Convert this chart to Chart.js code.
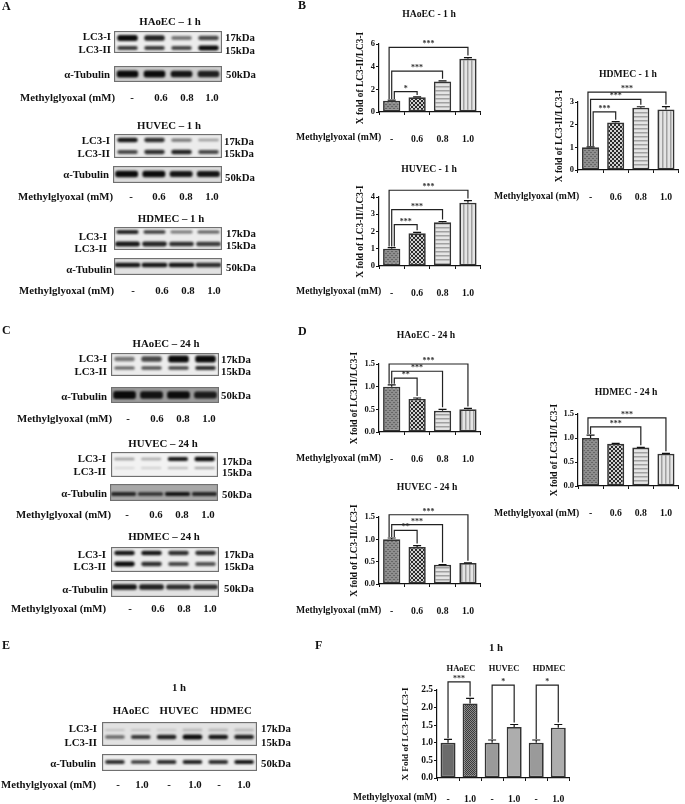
<!DOCTYPE html>
<html>
<head>
<meta charset="utf-8">
<script src="https://cdn.jsdelivr.net/npm/chart.js@4"></script>
<style>
  html, body { margin: 0; padding: 0; background: #fff; }
  #page { position: relative; width: 685px; height: 804px; overflow: hidden; font-family: "Liberation Serif", serif; font-weight: bold; color: #111; filter: blur(0.35px); }
  #page canvas { position: absolute; }
  .txt { position: absolute; white-space: nowrap; line-height: 1; }
</style>
</head>
<body>
<div id="page"></div>
<script>
// Values
const doses = ["-", "0.6", "0.8", "1.0"];
const pairDoses = ["-", "1.0", "-", "1.0", "-", "1.0"];
const cellTypes = ["HAoEC", "HUVEC", "HDMEC"];
const methylLabel = "Methylglyoxal (mM)";
const yTitle = "X fold of LC3-II/LC3-I";

// panel B
const haoec1hValues = [1.0, 1.3, 2.7, 4.7];
const haoec1hErrors = [0.05, 0.03, 0.05, 0.1];
const haoec1hTops = [1.8, 3.6, 5.7];
const haoec1hStars = ["*", "***", "***"];
const huvec1hValues = [1.0, 1.9, 2.53, 3.67];
const huvec1hErrors = [0.07, 0.05, 0.05, 0.12];
const huvec1hTops = [2.4, 3.27, 4.39];
const huvec1hStars = ["***", "***", "***"];
const hdmec1hValues = [1.0, 2.1, 2.75, 2.67];
const hdmec1hErrors = [0.02, 0.03, 0.04, 0.13];
const hdmec1hTops = [2.56, 3.12, 3.44];
const hdmec1hStars = ["***", "***", "***"];

// panel D
const haoec24hValues = [1.0, 0.73, 0.47, 0.5];
const haoec24hErrors = [0.04, 0.02, 0.03, 0.02];
const haoec24hTops = [1.19, 1.34, 1.5];
const haoec24hStars = ["**", "***", "***"];
const huvec24hValues = [1.0, 0.83, 0.43, 0.47];
const huvec24hErrors = [0.03, 0.03, 0.005, 0.005];
const huvec24hTops = [1.2, 1.33, 1.55];
const huvec24hStars = ["**", "***", "***"];
const hdmec24hValues = [1.0, 0.88, 0.8, 0.67];
const hdmec24hErrors = [0.06, 0.01, 0.005, 0.01];
const hdmec24hTops = [null, 1.23, 1.42];
const hdmec24hStars = ["", "***", "***"];

// panel F
const pairValues = [1.0, 2.12, 1.0, 1.45, 1.0, 1.43];
const pairErrors = [0.1, 0.14, 0.08, 0.07, 0.08, 0.09];
const pairTops = [2.73, 2.64, 2.64];
const pairStars = ["***", "*", "*"];

// band strength of each lane, 0 to 1 (panels A, C, E)
const a1Upper = [0.95, 0.85, 0.5, 0.7];
const a1Lower = [0.75, 0.75, 0.7, 0.95];
const a1Tubulin = [1, 1, 0.9, 0.85];
const a2Upper = [0.9, 0.8, 0.5, 0.35];
const a2Lower = [0.7, 0.8, 0.85, 0.7];
const a2Tubulin = [0.95, 0.95, 0.9, 0.9];
const a3Upper = [0.85, 0.75, 0.5, 0.6];
const a3Lower = [0.9, 0.85, 0.8, 0.75];
const a3Tubulin = [0.9, 0.9, 0.9, 0.8];
const c1Upper = [0.5, 0.7, 0.95, 1];
const c1Lower = [0.6, 0.65, 0.7, 0.8];
const c1Tubulin = [1, 0.9, 0.95, 0.85];
const c2Upper = [0.35, 0.3, 0.9, 1];
const c2Lower = [0.15, 0.2, 0.25, 0.35];
const c2Tubulin = [0.8, 0.75, 0.9, 0.8];
const c3Upper = [0.9, 0.9, 0.8, 0.8];
const c3Lower = [0.95, 0.8, 0.7, 0.65];
const c3Tubulin = [0.9, 0.85, 0.8, 0.8];
const eUpper = [0.15, 0.15, 0.12, 0.2, 0.2, 0.2];
const eLower = [0.55, 0.75, 0.85, 1, 0.9, 0.85];
const eTubulin = [0.8, 0.75, 0.8, 0.85, 0.8, 0.9];

const page = document.getElementById("page");
const SERIF = "'Liberation Serif', serif";

function addText(text, x, y, anchor, size) {
  const el = document.createElement("div");
  el.className = "txt";
  el.textContent = text;
  el.style.left = x + "px";
  el.style.top = y + "px";
  el.style.fontSize = (size || 10.8) + "px";
  const shift = anchor === "right" ? "-100%" : anchor === "left" ? "0" : "-50%";
  el.style.transform = "translate(" + shift + ",-50%)";
  page.appendChild(el);
}

function addCanvas(left, top, width, height) {
  const c = document.createElement("canvas");
  c.width = width;
  c.height = height;
  c.style.left = left + "px";
  c.style.top = top + "px";
  c.style.width = width + "px";
  c.style.height = height + "px";
  page.appendChild(c);
  return c;
}

// bar fills
function makePattern(kind) {
  const t = document.createElement("canvas");
  t.width = kind === "fine" ? 2 : 4;
  t.height = kind === "fine" ? 2 : 4;
  const g = t.getContext("2d");
  if (kind === "mesh") {
    g.fillStyle = "#8e8e8e";
    g.fillRect(0, 0, 4, 4);
    g.fillStyle = "#666";
    g.fillRect(0, 0, 2, 1);
    g.fillRect(2, 2, 2, 1);
  } else if (kind === "check") {
    g.fillStyle = "#d0d0d0";
    g.fillRect(0, 0, 4, 4);
    g.fillStyle = "#2a2a2a";
    g.fillRect(0, 0, 2, 2);
    g.fillRect(2, 2, 2, 2);
  } else if (kind === "fine") {
    g.fillStyle = "#8a8a8a";
    g.fillRect(0, 0, 2, 2);
    g.fillStyle = "#3a3a3a";
    g.fillRect(0, 0, 1, 1);
    g.fillRect(1, 1, 1, 1);
  } else if (kind === "hline") {
    g.fillStyle = "#e4e4e4";
    g.fillRect(0, 0, 4, 4);
    g.fillStyle = "#a0a0a0";
    g.fillRect(0, 0, 4, 1.5);
  } else {
    g.fillStyle = "#e4e4e4";
    g.fillRect(0, 0, 4, 4);
    g.fillStyle = "#a0a0a0";
    g.fillRect(0, 0, 1.5, 4);
  }
  return g.createPattern(t, "repeat");
}
const patterns = { mesh: makePattern("mesh"), check: makePattern("check"), fine: makePattern("fine"), hline: makePattern("hline"), vline: makePattern("vline") };
const fourFills = [patterns.mesh, patterns.check, patterns.hline, patterns.vline];
const pairFills = ["#6b6b6b", patterns.fine, "#9a9a9a", "#adadad", "#9a9a9a", "#adadad"];

// error caps and significance brackets, placed through the chart's scales
function marksPlugin(values, errors, brackets, opt) {
  return {
    id: "marks",
    afterDatasetsDraw(chart) {
      const ctx = chart.ctx;
      const y = chart.scales.y;
      const bars = chart.getDatasetMeta(0).data;
      ctx.save();
      ctx.strokeStyle = "#111";
      ctx.lineWidth = 1.2;
      values.forEach((v, i) => {
        const x = bars[i].x;
        const top = y.getPixelForValue(v + errors[i]);
        ctx.beginPath();
        ctx.moveTo(x, y.getPixelForValue(v));
        ctx.lineTo(x, top);
        ctx.moveTo(x - opt.cap, top);
        ctx.lineTo(x + opt.cap, top);
        ctx.stroke();
      });
      const mid = (brackets.length - 1) / 2;
      brackets.forEach((b, i) => {
        if (b.top === null) return;
        const dx = opt.nested ? (mid - i) * 2.6 : 0;
        const x0 = bars[b.from].x + dx;
        const x1 = bars[b.to].x;
        const yTop = y.getPixelForValue(b.top);
        const y0 = y.getPixelForValue(values[b.from] + errors[b.from]) - 1;
        const y1 = y.getPixelForValue(values[b.to] + errors[b.to]) - 2;
        ctx.strokeStyle = "#222";
        ctx.lineWidth = 1.2;
        ctx.beginPath();
        ctx.moveTo(x0, y0);
        ctx.lineTo(x0, yTop);
        ctx.lineTo(x1, yTop);
        ctx.lineTo(x1, y1);
        ctx.stroke();
        ctx.fillStyle = "#333";
        ctx.font = "bold " + opt.starSize + "px " + SERIF;
        ctx.textAlign = "center";
        ctx.textBaseline = "middle";
        ctx.fillText(b.label, (x0 + x1) / 2, yTop - 3);
      });
      ctx.restore();
    }
  };
}

// p = plot rectangle in page pixels, titleX = left edge for the axis title
function addBarChart(p, labels, values, errors, fills, yMax, step, brackets, extra) {
  const o = Object.assign({ nested: true, cap: 4, starSize: 8, tickSize: 8.5, xSize: 9.7, titleSize: 9.4, title: yTitle, decimals: 0, barPct: 0.68, xGap: 19 }, extra || {});
  const marginTop = 22, marginRight = 8, marginBottom = 36;
  const left = o.titleX;
  const w = p.right - left + marginRight;
  const h = p.bottom - p.top + marginTop + marginBottom;
  const canvas = addCanvas(left, p.top - marginTop, w, h);
  new Chart(canvas, {
    type: "bar",
    data: {
      labels: labels,
      datasets: [{
        data: values,
        backgroundColor: fills,
        borderColor: "#333",
        borderWidth: 1.7,
        borderSkipped: false,
        barPercentage: o.barPct,
        categoryPercentage: 1
      }]
    },
    options: {
      responsive: false,
      animation: false,
      events: [],
      layout: { padding: { top: marginTop, right: marginRight, left: 0, bottom: 0 } },
      plugins: { legend: { display: false }, tooltip: { enabled: false }, title: { display: false } },
      scales: {
        x: {
          border: { display: true, color: "#111", width: 1.2 },
          grid: { display: true, drawOnChartArea: false, drawTicks: true, tickLength: 3, tickColor: "#111" },
          ticks: { color: "#111", font: { family: SERIF, size: o.xSize, weight: "bold" }, padding: o.xGap, maxRotation: 0, autoSkip: false },
          afterFit(s) { s.height = marginBottom; }
        },
        y: {
          min: 0,
          max: yMax,
          border: { display: true, color: "#111", width: 1.2 },
          grid: { display: true, drawOnChartArea: false, drawTicks: true, tickLength: 3, tickColor: "#111" },
          ticks: {
            stepSize: step,
            padding: 1,
            color: "#111",
            font: { family: SERIF, size: o.tickSize, weight: "bold" },
            callback: v => v.toFixed(o.decimals)
          },
          title: { display: true, text: o.title, color: "#111", font: { family: SERIF, size: o.titleSize, weight: "bold" }, padding: 0 },
          afterFit(s) { s.width = p.left - left; }
        }
      }
    },
    plugins: [marksPlugin(values, errors, brackets, o)]
  });
}

function nestedBrackets(tops, stars) {
  return tops.map((t, i) => ({ from: 0, to: i + 1, top: t, label: stars[i] }));
}

// one western blot strip: every band is a floating bar in a lane
const blurPlugin = {
  id: "blur",
  beforeDatasetsDraw(chart) {
    chart.ctx.save();
    chart.ctx.filter = "blur(0.8px)";
  },
  afterDatasetsDraw(chart) {
    chart.ctx.restore();
  }
};

function addBlot(box, lanes, bands, bg) {
  const w = box.right - box.left;
  const h = box.bottom - box.top;
  const canvas = addCanvas(box.left, box.top, w, h);
  const frame = {
    id: "frame",
    beforeDraw(chart) {
      const ctx = chart.ctx;
      ctx.fillStyle = bg || "#ececec";
      ctx.fillRect(0, 0, w, h);
    },
    afterDraw(chart) {
      const ctx = chart.ctx;
      ctx.strokeStyle = "#707070";
      ctx.lineWidth = 1.3;
      ctx.strokeRect(0.5, 0.5, w - 1, h - 1);
    }
  };
  new Chart(canvas, {
    type: "bar",
    data: {
      labels: lanes,
      datasets: bands.map(b => {
        const half = v => b.size * 1.25 * (0.3 + 0.7 * v);
        return {
          data: b.values.map(v => [b.y - half(v), b.y + half(v)]),
          backgroundColor: b.values.map(v => "rgba(10,10,10," + Math.min(1, v * 1.05) + ")"),
          borderRadius: 2.5,
          borderSkipped: false,
          barPercentage: b.width || 0.76,
          categoryPercentage: 1
        };
      })
    },
    options: {
      responsive: false,
      animation: false,
      events: [],
      layout: { padding: 0 },
      datasets: { bar: { grouped: false } },
      plugins: { legend: { display: false }, tooltip: { enabled: false } },
      scales: {
        x: { display: false },
        y: { display: false, reverse: true, min: 0, max: h }
      }
    },
    plugins: [frame, blurPlugin]
  });
}

function laneRow(labels, xs, y, size) {
  labels.forEach((t, i) => addText(t, xs[i], y, "center", size || 10.8));
}

// Panel letters
addText("A", 2, 6, "left", 12);
addText("B", 298, 5, "left", 12);
addText("C", 2, 330, "left", 12);
addText("D", 298, 331, "left", 12);
addText("E", 2, 645, "left", 12);
addText("F", 315, 645, "left", 12);

// Panel A
addText("HAoEC – 1 h", 170, 21, "center");
addBlot({ left: 114, right: 222, top: 31, bottom: 53 }, doses, [
  { values: a1Upper, y: 7, size: 2.4 }, { values: a1Lower, y: 17, size: 2 }]);
addText("LC3-I", 111, 36, "right"); addText("LC3-II", 111, 49, "right");
addText("17kDa", 225, 37, "left"); addText("15kDa", 225, 50, "left");
addBlot({ left: 114, right: 222, top: 66, bottom: 82 }, doses, [{ values: a1Tubulin, y: 8, size: 2.8, width: 0.8 }], "#cfcfcf");
addText("α-Tubulin", 110, 74, "right"); addText("50kDa", 226, 74, "left");
addText(methylLabel, 20, 97, "left"); laneRow(doses, [132, 161, 187, 212], 97);

addText("HUVEC – 1 h", 169, 125, "center");
addBlot({ left: 114, right: 222, top: 134, bottom: 158 }, doses, [
  { values: a2Upper, y: 6, size: 2 }, { values: a2Lower, y: 18, size: 2 }]);
addText("LC3-I", 110, 140, "right"); addText("LC3-II", 110, 153, "right");
addText("17kDa", 224, 141, "left"); addText("15kDa", 224, 153, "left");
addBlot({ left: 113, right: 222, top: 166, bottom: 183 }, doses, [{ values: a2Tubulin, y: 8, size: 2.6, width: 0.84 }], "#dcdcdc");
addText("α-Tubulin", 109, 174, "right"); addText("50kDa", 225, 177, "left");
addText(methylLabel, 18, 196, "left"); laneRow(doses, [131, 159, 186, 212], 196);

addText("HDMEC – 1 h", 171, 218, "center");
addBlot({ left: 114, right: 222, top: 227, bottom: 250 }, doses, [
  { values: a3Upper, y: 5, size: 1.7, width: 0.82 }, { values: a3Lower, y: 17, size: 2.2, width: 0.92 }]);
addText("LC3-I", 107, 236, "right"); addText("LC3-II", 107, 248, "right");
addText("17kDa", 226, 233, "left"); addText("15kDa", 226, 245, "left");
addBlot({ left: 114, right: 222, top: 258, bottom: 275 }, doses, [{ values: a3Tubulin, y: 7, size: 2, width: 0.96 }], "#e2e2e2");
addText("α-Tubulin", 112, 269, "right"); addText("50kDa", 226, 267, "left");
addText(methylLabel, 19, 290, "left"); laneRow(doses, [133, 162, 188, 214], 290);

// Panel C
addText("HAoEC – 24 h", 166, 343, "center");
addBlot({ left: 111, right: 219, top: 353, bottom: 376 }, doses, [
  { values: c1Upper, y: 6, size: 2.8 }, { values: c1Lower, y: 15, size: 1.8 }]);
addText("LC3-I", 107, 358, "right"); addText("LC3-II", 107, 371, "right");
addText("17kDa", 221, 359, "left"); addText("15kDa", 221, 371, "left");
addBlot({ left: 111, right: 219, top: 387, bottom: 403 }, doses, [{ values: c1Tubulin, y: 8, size: 3.2, width: 0.84 }], "#9c9c9c");
addText("α-Tubulin", 107, 396, "right"); addText("50kDa", 221, 395, "left");
addText(methylLabel, 17, 418, "left"); laneRow(doses, [128, 157, 183, 209], 418);

addText("HUVEC – 24 h", 163, 443, "center");
addBlot({ left: 111, right: 218, top: 452, bottom: 477 }, doses, [
  { values: c2Upper, y: 7, size: 1.8 }, { values: c2Lower, y: 16, size: 1.5 }], "#f2f2f2");
addText("LC3-I", 106, 458, "right"); addText("LC3-II", 106, 471, "right");
addText("17kDa", 222, 461, "left"); addText("15kDa", 222, 472, "left");
addBlot({ left: 110, right: 218, top: 484, bottom: 501 }, doses, [{ values: c2Tubulin, y: 10, size: 1.8, width: 0.94 }], "#a8a8a8");
addText("α-Tubulin", 107, 493, "right"); addText("50kDa", 222, 494, "left");
addText(methylLabel, 16, 514, "left"); laneRow(doses, [127, 156, 182, 208], 514);

addText("HDMEC – 24 h", 164, 536, "center");
addBlot({ left: 111, right: 219, top: 547, bottom: 572 }, doses, [
  { values: c3Upper, y: 6, size: 2 }, { values: c3Lower, y: 17, size: 2 }]);
addText("LC3-I", 106, 554, "right"); addText("LC3-II", 106, 566, "right");
addText("17kDa", 224, 554, "left"); addText("15kDa", 224, 566, "left");
addBlot({ left: 111, right: 219, top: 580, bottom: 597 }, doses, [{ values: c3Tubulin, y: 7, size: 2.4, width: 0.92 }], "#e2e2e2");
addText("α-Tubulin", 108, 589, "right"); addText("50kDa", 224, 588, "left");
addText(methylLabel, 11, 608, "left"); laneRow(doses, [130, 158, 184, 210], 608);

// Panel E
addText("1 h", 179, 687, "center");
laneRow(cellTypes, [131, 179, 231], 710, 10.8);
addBlot({ left: 102, right: 257, top: 722, bottom: 746 }, pairDoses, [
  { values: eUpper, y: 8, size: 2.2 }, { values: eLower, y: 15, size: 2 }], "#e2e2e2");
addText("LC3-I", 97, 728, "right"); addText("LC3-II", 97, 742, "right");
addText("17kDa", 261, 728, "left"); addText("15kDa", 261, 742, "left");
addBlot({ left: 102, right: 257, top: 754, bottom: 771 }, pairDoses, [{ values: eTubulin, y: 8, size: 1.8 }], "#eeeeee");
addText("α-Tubulin", 96, 763, "right"); addText("50kDa", 261, 763, "left");
addText(methylLabel, 1, 784, "left"); laneRow(pairDoses, [118, 142, 169, 195, 219, 244], 784);

// Panel B
addText("HAoEC - 1 h", 429, 14, "center", 9.7);
addBarChart({ left: 379, right: 486, top: 44, bottom: 112 }, doses, haoec1hValues, haoec1hErrors, fourFills, 6, 2,
  nestedBrackets(haoec1hTops, haoec1hStars), { titleX: 355 });
addText(methylLabel, 296, 137, "left", 9.7);

addText("HUVEC - 1 h", 429, 169, "center", 9.7);
addBarChart({ left: 379, right: 486, top: 197, bottom: 266 }, doses, huvec1hValues, huvec1hErrors, fourFills, 4, 1,
  nestedBrackets(huvec1hTops, huvec1hStars), { titleX: 355 });
addText(methylLabel, 296, 291, "left", 9.7);

addText("HDMEC - 1 h", 628, 74, "center", 9.7);
addBarChart({ left: 578, right: 684, top: 102, bottom: 170 }, doses, hdmec1hValues, hdmec1hErrors, fourFills, 3, 1,
  nestedBrackets(hdmec1hTops, hdmec1hStars), { titleX: 554 });
addText(methylLabel, 494, 196, "left", 9.7);

// Panel D
addText("HAoEC - 24 h", 426, 335, "center", 9.7);
addBarChart({ left: 379, right: 486, top: 364, bottom: 432 }, doses, haoec24hValues, haoec24hErrors, fourFills, 1.5, 0.5,
  nestedBrackets(haoec24hTops, haoec24hStars), { titleX: 349, decimals: 1 });
addText(methylLabel, 296, 458, "left", 9.7);

addText("HUVEC - 24 h", 427, 487, "center", 9.7);
addBarChart({ left: 379, right: 486, top: 517, bottom: 584 }, doses, huvec24hValues, huvec24hErrors, fourFills, 1.5, 0.5,
  nestedBrackets(huvec24hTops, huvec24hStars), { titleX: 349, decimals: 1 });
addText(methylLabel, 296, 610, "left", 9.7);

addText("HDMEC - 24 h", 626, 392, "center", 9.7);
addBarChart({ left: 578, right: 684, top: 414, bottom: 486 }, doses, hdmec24hValues, hdmec24hErrors, fourFills, 1.5, 0.5,
  nestedBrackets(hdmec24hTops, hdmec24hStars), { titleX: 549, decimals: 1 });
addText(methylLabel, 494, 513, "left", 9.7);

// Panel F
addText("1 h", 496, 647, "center");
laneRow(cellTypes, [461, 504, 549], 668, 8.5);
addBarChart({ left: 437, right: 570, top: 690, bottom: 778 }, pairDoses, pairValues, pairErrors, pairFills, 2.5, 0.5,
  [{ from: 0, to: 1, top: pairTops[0], label: pairStars[0] },
   { from: 2, to: 3, top: pairTops[1], label: pairStars[1] },
   { from: 4, to: 5, top: pairTops[2], label: pairStars[2] }],
  { titleX: 400, decimals: 1, title: "X Fold of LC3-II/LC3-I", nested: false, tickSize: 9.5, titleSize: 9.2, barPct: 0.68, xGap: 13 });
addText(methylLabel, 353, 798, "left", 9.5);
</script>
</body>
</html>
